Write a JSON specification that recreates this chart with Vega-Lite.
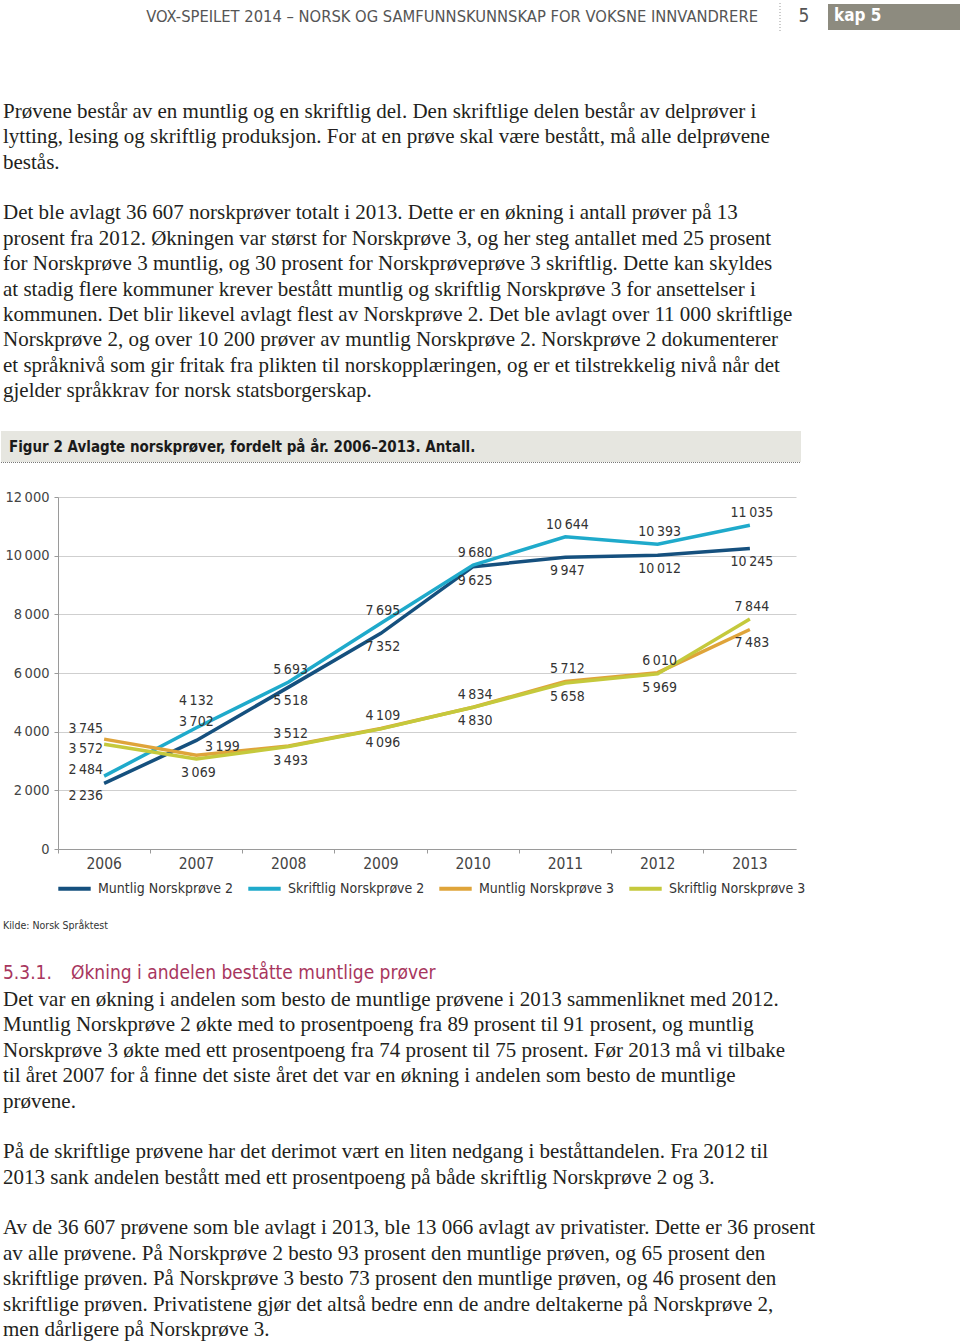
{
  "$schema": "https://vega.github.io/schema/vega-lite/v6.json",
  "padding": 0,
  "spacing": 0,
  "bounds": "flush",
  "background": "white",
  "resolve": {"legend": {"color": "independent"}},
  "config": {
    "view": {"stroke": null},
    "locale": {"number": {"decimal": ",", "thousands": "\u2009", "grouping": [3], "currency": ["", " kr"]}},
    "font": "Liberation Sans Narrow, DejaVu Sans Condensed, Liberation Sans, sans-serif"
  },
  "vconcat": [
    {
      "width": 903,
      "height": 497,
      "layer": [
        {
          "data": {"values": [{"t": "VOX-SPEILET 2014 – NORSK OG SAMFUNNSKUNNSKAP FOR VOKSNE INNVANDRERE"}]},
          "mark": {"type": "text", "align": "right", "baseline": "middle", "fontSize": 16.4, "color": "#555555"},
          "encoding": {"x": {"value": 700}, "y": {"value": 17}, "text": {"field": "t"}}
        },
        {
          "data": {"values": [{}]},
          "mark": {"type": "rule", "color": "#999999", "strokeDash": [1, 2], "strokeWidth": 1},
          "encoding": {"x": {"value": 722}, "y": {"value": 3}, "y2": {"value": 31}}
        },
        {
          "data": {"values": [{"t": "5"}]},
          "mark": {"type": "text", "align": "center", "baseline": "middle", "fontSize": 19, "color": "#555555"},
          "encoding": {"x": {"value": 746}, "y": {"value": 16}, "text": {"field": "t"}}
        },
        {
          "data": {"values": [{}]},
          "mark": {"type": "rect", "color": "#8d8b7f"},
          "encoding": {"x": {"value": 770}, "x2": {"value": 903}, "y": {"value": 4}, "y2": {"value": 30}}
        },
        {
          "data": {"values": [{"t": "kap 5"}]},
          "mark": {"type": "text", "align": "left", "baseline": "middle", "fontSize": 17, "fontWeight": "bold", "color": "#ffffff"},
          "encoding": {"x": {"value": 776}, "y": {"value": 16}, "text": {"field": "t"}}
        },
        {
          "data": {"values": [
            {"l": 0, "t": "Prøvene består av en muntlig og en skriftlig del. Den skriftlige delen består av delprøver i"},
            {"l": 1, "t": "lytting, lesing og skriftlig produksjon. For at en prøve skal være bestått, må alle delprøvene"},
            {"l": 2, "t": "bestås."},
            {"l": 4, "t": "Det ble avlagt 36 607 norskprøver totalt i 2013. Dette er en økning i antall prøver på 13"},
            {"l": 5, "t": "prosent fra 2012. Økningen var størst for Norskprøve 3, og her steg antallet med 25 prosent"},
            {"l": 6, "t": "for Norskprøve 3 muntlig, og 30 prosent for Norskprøveprøve 3 skriftlig. Dette kan skyldes"},
            {"l": 7, "t": "at stadig flere kommuner krever bestått muntlig og skriftlig Norskprøve 3 for ansettelser i"},
            {"l": 8, "t": "kommunen. Det blir likevel avlagt flest av Norskprøve 2. Det ble avlagt over 11 000 skriftlige"},
            {"l": 9, "t": "Norskprøve 2, og over 10 200 prøver av muntlig Norskprøve 2. Norskprøve 2 dokumenterer"},
            {"l": 10, "t": "et språknivå som gir fritak fra plikten til norskopplæringen, og er et tilstrekkelig nivå når det"},
            {"l": 11, "t": "gjelder språkkrav for norsk statsborgerskap."}
          ]},
          "mark": {"type": "text", "align": "left", "baseline": "middle", "fontSize": 21, "color": "#231f20", "font": "Liberation Serif, serif"},
          "encoding": {
            "x": {"value": -55},
            "y": {"field": "l", "type": "quantitative", "scale": {"domain": [0, 11], "range": [112, 391]}, "axis": null},
            "text": {"field": "t"}
          }
        },
        {
          "data": {"values": [{}]},
          "mark": {"type": "rect", "color": "#e6e6e0"},
          "encoding": {"x": {"value": -57}, "x2": {"value": 743}, "y": {"value": 431}, "y2": {"value": 462}}
        },
        {
          "data": {"values": [{}]},
          "mark": {"type": "rule", "color": "#777777", "strokeDash": [1, 1], "strokeWidth": 1},
          "encoding": {"x": {"value": -57}, "x2": {"value": 743}, "y": {"value": 462.5}}
        },
        {
          "data": {"values": [{"t": "Figur 2 Avlagte norskprøver, fordelt på år. 2006–2013. Antall."}]},
          "mark": {"type": "text", "align": "left", "baseline": "middle", "fontSize": 15, "fontWeight": "bold", "color": "#1a1a1a"},
          "encoding": {"x": {"value": -49}, "y": {"value": 447}, "text": {"field": "t"}}
        }
      ]
    },
    {
      "width": 738,
      "height": 352,
      "data": {"values": [
        {"year": "2006", "series": "Muntlig Norskprøve 2", "prove": "NP2", "value": 2236},
        {"year": "2007", "series": "Muntlig Norskprøve 2", "prove": "NP2", "value": 3702},
        {"year": "2008", "series": "Muntlig Norskprøve 2", "prove": "NP2", "value": 5518},
        {"year": "2009", "series": "Muntlig Norskprøve 2", "prove": "NP2", "value": 7352},
        {"year": "2010", "series": "Muntlig Norskprøve 2", "prove": "NP2", "value": 9625},
        {"year": "2011", "series": "Muntlig Norskprøve 2", "prove": "NP2", "value": 9947},
        {"year": "2012", "series": "Muntlig Norskprøve 2", "prove": "NP2", "value": 10012},
        {"year": "2013", "series": "Muntlig Norskprøve 2", "prove": "NP2", "value": 10245},
        {"year": "2006", "series": "Skriftlig Norskprøve 2", "prove": "NP2", "value": 2484},
        {"year": "2007", "series": "Skriftlig Norskprøve 2", "prove": "NP2", "value": 4132},
        {"year": "2008", "series": "Skriftlig Norskprøve 2", "prove": "NP2", "value": 5693},
        {"year": "2009", "series": "Skriftlig Norskprøve 2", "prove": "NP2", "value": 7695},
        {"year": "2010", "series": "Skriftlig Norskprøve 2", "prove": "NP2", "value": 9680},
        {"year": "2011", "series": "Skriftlig Norskprøve 2", "prove": "NP2", "value": 10644},
        {"year": "2012", "series": "Skriftlig Norskprøve 2", "prove": "NP2", "value": 10393},
        {"year": "2013", "series": "Skriftlig Norskprøve 2", "prove": "NP2", "value": 11035},
        {"year": "2006", "series": "Muntlig Norskprøve 3", "prove": "NP3", "value": 3745},
        {"year": "2007", "series": "Muntlig Norskprøve 3", "prove": "NP3", "value": 3199},
        {"year": "2008", "series": "Muntlig Norskprøve 3", "prove": "NP3", "value": 3512},
        {"year": "2009", "series": "Muntlig Norskprøve 3", "prove": "NP3", "value": 4109},
        {"year": "2010", "series": "Muntlig Norskprøve 3", "prove": "NP3", "value": 4834},
        {"year": "2011", "series": "Muntlig Norskprøve 3", "prove": "NP3", "value": 5712},
        {"year": "2012", "series": "Muntlig Norskprøve 3", "prove": "NP3", "value": 6010},
        {"year": "2013", "series": "Muntlig Norskprøve 3", "prove": "NP3", "value": 7483},
        {"year": "2006", "series": "Skriftlig Norskprøve 3", "prove": "NP3", "value": 3572},
        {"year": "2007", "series": "Skriftlig Norskprøve 3", "prove": "NP3", "value": 3069},
        {"year": "2008", "series": "Skriftlig Norskprøve 3", "prove": "NP3", "value": 3493},
        {"year": "2009", "series": "Skriftlig Norskprøve 3", "prove": "NP3", "value": 4096},
        {"year": "2010", "series": "Skriftlig Norskprøve 3", "prove": "NP3", "value": 4830},
        {"year": "2011", "series": "Skriftlig Norskprøve 3", "prove": "NP3", "value": 5658},
        {"year": "2012", "series": "Skriftlig Norskprøve 3", "prove": "NP3", "value": 5969},
        {"year": "2013", "series": "Skriftlig Norskprøve 3", "prove": "NP3", "value": 7844}
      ]},
      "transform": [
        {"joinaggregate": [{"op": "max", "field": "value", "as": "mx"}], "groupby": ["year", "prove"]}
      ],
      "encoding": {
        "x": {
          "field": "year", "type": "ordinal", "bandPosition": 0.5,
          "scale": {"type": "band", "paddingInner": 0, "paddingOuter": 0},
          "axis": {"title": null, "labelAngle": 0, "bandPosition": 0, "domainColor": "#9a9a9a", "tickColor": "#9a9a9a", "tickSize": 4, "labelFontSize": 15.5, "labelColor": "#444444", "labelPadding": 3, "grid": false}
        },
        "y": {
          "field": "value", "type": "quantitative",
          "scale": {"domain": [0, 12000], "nice": false},
          "axis": {"title": null, "values": [0, 2000, 4000, 6000, 8000, 10000, 12000], "format": ",d", "grid": true, "gridColor": "#cfcfcf", "domainColor": "#9a9a9a", "tickColor": "#9a9a9a", "tickSize": 4, "labelFontSize": 14.5, "labelColor": "#444444", "labelPadding": 5}
        }
      },
      "layer": [
        {
          "mark": {"type": "line", "strokeWidth": 3.5},
          "encoding": {
            "color": {
              "field": "series", "type": "nominal",
              "scale": {"domain": ["Muntlig Norskprøve 2", "Skriftlig Norskprøve 2", "Muntlig Norskprøve 3", "Skriftlig Norskprøve 3"], "range": ["#15507e", "#1faacb", "#dfa43a", "#c5c93c"]},
              "legend": {"orient": "none", "legendX": -2, "legendY": 373, "direction": "horizontal", "title": null, "symbolType": "stroke", "symbolStrokeWidth": 4, "symbolSize": 1050, "labelFontSize": 14, "labelColor": "#333333", "columnPadding": 6, "labelOffset": 5}
            }
          }
        },
        {
          "transform": [{"filter": "datum.year != '2006' && datum.year != '2007' && datum.value == datum.mx"}],
          "mark": {"type": "text", "baseline": "bottom", "align": "center", "dx": 2, "dy": -5, "fontSize": 14, "color": "#333333"},
          "encoding": {"text": {"field": "value", "type": "quantitative", "format": ",d"}}
        },
        {
          "transform": [{"filter": "datum.year != '2006' && !(datum.year == '2007' && datum.prove == 'NP2') && datum.value != datum.mx"}],
          "mark": {"type": "text", "baseline": "top", "align": "center", "dx": 2, "dy": 7, "fontSize": 14, "color": "#333333"},
          "encoding": {"text": {"field": "value", "type": "quantitative", "format": ",d"}}
        },
        {
          "transform": [{"filter": "datum.year == '2007' && datum.prove == 'NP2' && datum.value == datum.mx"}],
          "mark": {"type": "text", "baseline": "bottom", "align": "center", "dy": -20, "fontSize": 14, "color": "#333333"},
          "encoding": {"text": {"field": "value", "type": "quantitative", "format": ",d"}}
        },
        {
          "transform": [{"filter": "datum.year == '2007' && datum.prove == 'NP2' && datum.value != datum.mx"}],
          "mark": {"type": "text", "baseline": "bottom", "align": "center", "dy": -11, "fontSize": 14, "color": "#333333"},
          "encoding": {"text": {"field": "value", "type": "quantitative", "format": ",d"}}
        },
        {
          "transform": [{"filter": "datum.year == '2007' && datum.prove == 'NP3' && datum.value == datum.mx"}],
          "mark": {"type": "text", "baseline": "bottom", "align": "center", "dx": 26, "dy": -1, "fontSize": 14, "color": "#333333"},
          "encoding": {"text": {"field": "value", "type": "quantitative", "format": ",d"}}
        },
        {
          "transform": [{"filter": "datum.year == '2006' && datum.prove == 'NP3' && datum.value == datum.mx"}],
          "mark": {"type": "text", "baseline": "bottom", "align": "right", "dx": -1, "dy": -3, "fontSize": 14, "color": "#333333"},
          "encoding": {"text": {"field": "value", "type": "quantitative", "format": ",d"}}
        },
        {
          "transform": [{"filter": "datum.year == '2006' && datum.prove == 'NP3' && datum.value != datum.mx"}],
          "mark": {"type": "text", "baseline": "top", "align": "right", "dx": -1, "dy": -2, "fontSize": 14, "color": "#333333"},
          "encoding": {"text": {"field": "value", "type": "quantitative", "format": ",d"}}
        },
        {
          "transform": [{"filter": "datum.year == '2006' && datum.prove == 'NP2' && datum.value == datum.mx"}],
          "mark": {"type": "text", "baseline": "bottom", "align": "right", "dx": -1, "dy": 1, "fontSize": 14, "color": "#333333"},
          "encoding": {"text": {"field": "value", "type": "quantitative", "format": ",d"}}
        },
        {
          "transform": [{"filter": "datum.year == '2006' && datum.prove == 'NP2' && datum.value != datum.mx"}],
          "mark": {"type": "text", "baseline": "top", "align": "right", "dx": -1, "dy": 6, "fontSize": 14, "color": "#333333"},
          "encoding": {"text": {"field": "value", "type": "quantitative", "format": ",d"}}
        }
      ]
    },
    {
      "width": 903,
      "height": 493,
      "layer": [
        {
          "data": {"values": [{"t": "Kilde: Norsk Språktest"}]},
          "mark": {"type": "text", "align": "left", "baseline": "middle", "fontSize": 10.5, "color": "#333333"},
          "encoding": {"x": {"value": -55}, "y": {"value": 77}, "text": {"field": "t"}}
        },
        {
          "data": {"values": [{"t": "5.3.1."}]},
          "mark": {"type": "text", "align": "left", "baseline": "middle", "fontSize": 19, "color": "#a8365e"},
          "encoding": {"x": {"value": -55}, "y": {"value": 124}, "text": {"field": "t"}}
        },
        {
          "data": {"values": [{"t": "Økning i andelen beståtte muntlige prøver"}]},
          "mark": {"type": "text", "align": "left", "baseline": "middle", "fontSize": 19, "color": "#a8365e"},
          "encoding": {"x": {"value": 13}, "y": {"value": 124}, "text": {"field": "t"}}
        },
        {
          "data": {"values": [
            {"l": 0, "t": "Det var en økning i andelen som besto de muntlige prøvene i 2013 sammenliknet med 2012."},
            {"l": 1, "t": "Muntlig Norskprøve 2 økte med to prosentpoeng fra 89 prosent til 91 prosent, og muntlig"},
            {"l": 2, "t": "Norskprøve 3 økte med ett prosentpoeng fra 74 prosent til 75 prosent. Før 2013 må vi tilbake"},
            {"l": 3, "t": "til året 2007 for å finne det siste året det var en økning i andelen som besto de muntlige"},
            {"l": 4, "t": "prøvene."},
            {"l": 6, "t": "På de skriftlige prøvene har det derimot vært en liten nedgang i beståttandelen. Fra 2012 til"},
            {"l": 7, "t": "2013 sank andelen bestått med ett prosentpoeng på både skriftlig Norskprøve 2 og 3."},
            {"l": 9, "t": "Av de 36 607 prøvene som ble avlagt i 2013, ble 13 066 avlagt av privatister. Dette er 36 prosent"},
            {"l": 10, "t": "av alle prøvene. På Norskprøve 2 besto 93 prosent den muntlige prøven, og 65 prosent den"},
            {"l": 11, "t": "skriftlige prøven. På Norskprøve 3 besto 73 prosent den muntlige prøven, og 46 prosent den"},
            {"l": 12, "t": "skriftlige prøven. Privatistene gjør det altså bedre enn de andre deltakerne på Norskprøve 2,"},
            {"l": 13, "t": "men dårligere på Norskprøve 3."}
          ]},
          "mark": {"type": "text", "align": "left", "baseline": "middle", "fontSize": 21, "color": "#231f20", "font": "Liberation Serif, serif"},
          "encoding": {
            "x": {"value": -55},
            "y": {"field": "l", "type": "quantitative", "scale": {"domain": [0, 13], "range": [151, 481]}, "axis": null},
            "text": {"field": "t"}
          }
        }
      ]
    }
  ]
}
